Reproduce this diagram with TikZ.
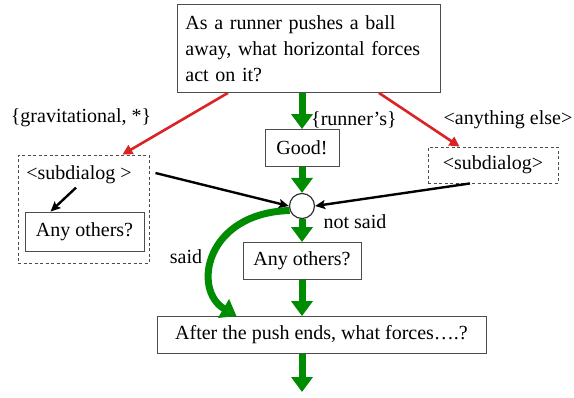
\documentclass[tikz,border=0pt]{standalone}
\usepackage{fontspec}
\setmainfont{Liberation Serif}
\newfontfamily\timesfont{Liberation Serif}
\usetikzlibrary{arrows.meta}

\definecolor{okgreen}{RGB}{0,140,0}
\definecolor{badred}{RGB}{220,35,35}

\tikzset{
  box/.style={draw=black!70, line width=0.9pt, minimum height=37pt, inner xsep=10pt, inner ysep=0pt},
  subbox/.style={draw=black!70, line width=0.9pt, dash pattern=on 3pt off 2.5pt},
  goodarrow/.style={draw=okgreen, line width=7pt, -{Triangle[length=15pt,width=21pt]}},
  badarrow/.style={draw=badred, line width=2.6pt, -{Triangle[length=10pt,width=10pt]}},
  plainarrow/.style={draw=black, line width=2.4pt, -{Stealth[length=10pt,width=9pt,inset=2pt]}},
}

\begin{document}
\begin{tikzpicture}[x=1pt, y=-1pt, font=\timesfont\fontsize{20}{26}\selectfont]
    \useasboundingbox (0,0) rectangle (574,397);

    \node[box, anchor=north west, text width=247pt, align=left, inner xsep=8pt,
          minimum height=88pt] (q) at (177,4)
        {As a runner pushes a ball\\ away, what horizontal forces\\ act on it?};
    \node[box, minimum width=74pt] (good) at (302,148) {Good!};
    \node[circle, draw=black!80, line width=1.2pt, minimum size=25pt, inner sep=0pt] (join) at (302,206) {};
    \node[box, minimum width=118pt] (more) at (302,261) {Any others?};
    \node[box, minimum width=329pt] (next) at (321.5,335) {After the push ends, what forces….?};
    \coordinate (out) at (302,392);

    \node[subbox, minimum width=131pt, minimum height=108pt] (subl) at (83.5,209) {};
    \node (subt) at (79,175) {<subdialog >};
    \node[box, minimum width=119pt, minimum height=39pt] (again) at (84.5,231.5) {Any others?};
    \node[subbox, minimum width=130pt, minimum height=36pt] (subr) at (493,165) {<subdialog>};

    \node (lgrav) at (81,118) {\{gravitational, *\}};
    \node[anchor=west, inner sep=0pt] (lrun) at (311,120) {\{runner’s\}};
    \node (lelse) at (508,120) {<anything else>};
    \node (lnot) at (355,222) {not said};
    \node (lsaid) at (186,257) {said};

    \draw[goodarrow] (q.south -| good.north) -- (good.north);
    \draw[goodarrow] (good.south) -- (join.north);
    \draw[goodarrow] (join.south) -- (more.north);
    \draw[goodarrow] (more.south) -- (next.north -| more.south);
    \draw[goodarrow] (next.south -| out) -- (out);
    \draw[goodarrow] (join.200) .. controls (205,213) and (192,290) .. ([xshift=-85pt]next.north);

    \draw[badarrow] ([xshift=51pt]q.south west) -- ([xshift=-27pt]subl.north east);
    \draw[badarrow] ([xshift=-62pt]q.south east) -- ([xshift=32pt]subr.north west);

    \draw[plainarrow] ([shift={(6pt,36pt)}]subl.east) -- (join.west);
    \draw[plainarrow] ([xshift=-23pt]subr.south) -- (join.east);
    \draw[plainarrow] ([xshift=-3pt]subt.south) -- ([xshift=-34pt]again.north);
\end{tikzpicture}
\end{document}
